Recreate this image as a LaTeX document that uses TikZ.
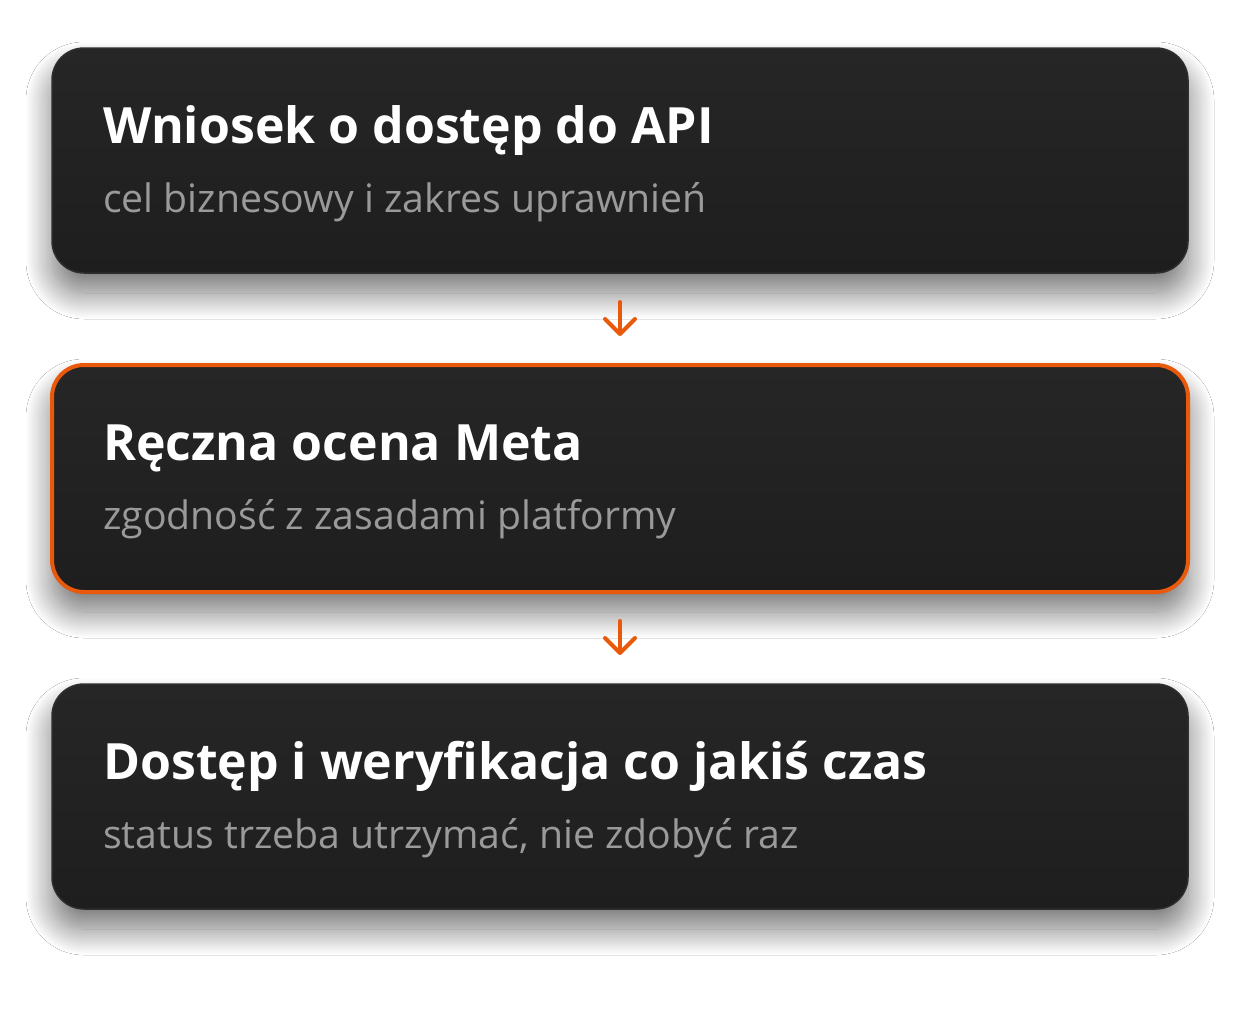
\documentclass[tikz,border=0pt]{standalone}
\usepackage{fontspec}
\setmainfont{Open Sans}
\usetikzlibrary{positioning,arrows.meta,shadows.blur}
\definecolor{cardtop}{HTML}{262626}
\definecolor{cardbot}{HTML}{1E1E1E}
\definecolor{cardline}{HTML}{2E2E2E}
\definecolor{accent}{HTML}{E8590C}
\definecolor{subgray}{HTML}{9A9A9A}

\begin{document}
\begin{tikzpicture}[x=1pt, y=-1pt,
    card/.style={rectangle, rounded corners=32pt, minimum width=1136pt, minimum height=225pt, outer sep=0pt,
        top color=cardtop, bottom color=cardbot, draw=cardline, line width=1.5pt,
        blur shadow={shadow xshift=0pt, shadow yshift=-20pt, shadow blur radius=26pt,
            shadow blur steps=30, shadow opacity=55}},
    hot/.style={card, draw=accent, line width=4pt, minimum height=227pt},
    title/.style={anchor=base west, inner sep=0pt, text=white, font=\fontsize{50}{60}\selectfont\bfseries},
    sub/.style={anchor=base west, inner sep=0pt, text=subgray, font=\fontsize{39.2}{46}\selectfont},
    flow/.style={draw=accent, line width=4pt, line cap=round,
        -{Straight Barb[round, length=15pt, width=30pt]}, shorten <=29pt, shorten >=29pt}
]
    \useasboundingbox[fill=white] (0,0) rectangle (1240,1010);

    \node [card] (wniosek) at (620,160.5) {};
    \node [hot, below=92pt of wniosek] (ocena) {};
    \node [card, below=92pt of ocena] (dostep) {};

    \node [title] (wniosekT) at ([shift={(51,95)}]wniosek.north west) {Wniosek o dostęp do API};
    \node [sub] (wniosekS) at ([shift={(51,164)}]wniosek.north west) {cel biznesowy i zakres uprawnień};

    \node [title] (ocenaT) at ([shift={(51,95)}]ocena.north west) {Ręczna ocena Meta};
    \node [sub] (ocenaS) at ([shift={(51,164)}]ocena.north west) {zgodność z zasadami platformy};

    \node [title] (dostepT) at ([shift={(51,95)}]dostep.north west) {Dostęp i weryfikacja co jakiś czas};
    \node [sub] (dostepS) at ([shift={(51,164)}]dostep.north west) {status trzeba utrzymać, nie zdobyć raz};

    \draw [flow] (wniosek) -- (ocena);
    \draw [flow] (ocena) -- (dostep);
\end{tikzpicture}
\end{document}
